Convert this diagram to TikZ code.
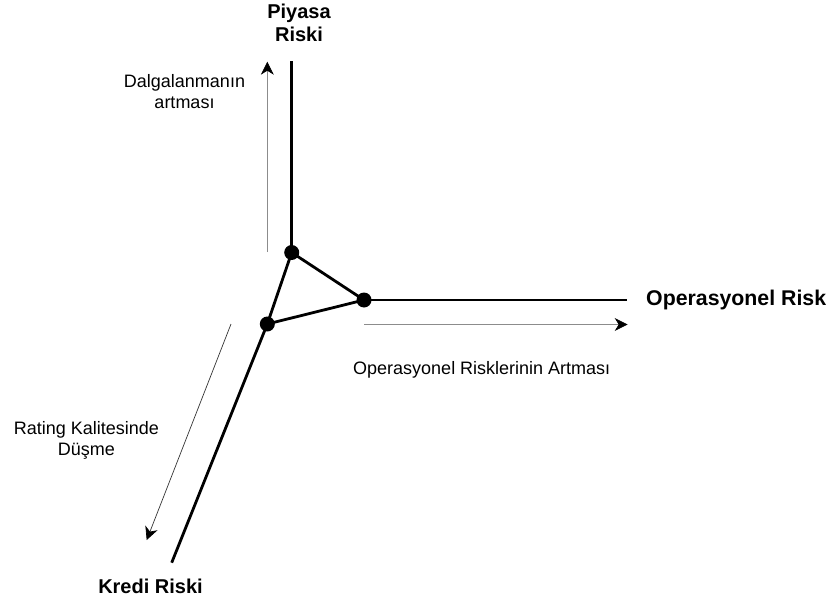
\documentclass[tikz,border=0pt]{standalone}
\usepackage{fontspec}
\setmainfont{Liberation Sans}
\usetikzlibrary{arrows.meta}
\tikzset{
  axis/.style={line width=2.8pt, black},
  edge/.style={line width=2.8pt, black, line join=round},
  trend/.style={line width=0.7pt, black!45, -{Stealth[black,length=13pt,width=13pt,inset=4pt]}},
  trenddiag/.style={trend, black!80},
  dot/.style={circle, fill=black, inner sep=0pt, minimum size=15pt},
  axislabel/.style={font=\fontsize{20}{23.4}\selectfont\bfseries, inner sep=0pt, align=center},
  note/.style={font=\fontsize{18}{21}\selectfont, inner sep=0pt, align=center}
}
\begin{document}
\begin{tikzpicture}[x=1pt, y=-1pt]
  \useasboundingbox (0,0) rectangle (834,604);

  % corner points of the risk triangle
  \node[dot] (p) at (291.7,252.5) {};
  \node[dot] (o) at (364,300) {};
  \node[dot] (k) at (267.3,324) {};

  % ends of the three axes
  \coordinate (ptop) at (291.7,60.7);
  \coordinate (oend) at (626.7,300);
  \coordinate (kend) at (171.7,562.7);

  % axes
  \draw[axis] (p.center) -- (ptop);
  \draw[axis] (o.center) -- (oend);
  \draw[axis] (k.center) -- (kend);

  % triangle
  \draw[edge] (p.center) -- (o.center) -- (k.center) -- cycle;

  % direction arrows
  \coordinate (u0) at (267.3,252);
  \coordinate (u1) at (267.3,61.7);
  \coordinate (r0) at (364,324.5);
  \coordinate (r1) at (627.7,324.5);
  \coordinate (d0) at (231,324);
  \coordinate (d1) at (146.7,540);
  \draw[trend] (u0) -- (u1);
  \draw[trend] (r0) -- (r1);
  \draw[trenddiag] (d0) -- (d1);

  % axis titles
  \node[axislabel] (lp) at (299,22.7) {Piyasa\\Riski};
  \node[axislabel, anchor=base west, font=\fontsize{21.3}{25}\selectfont\bfseries] (lo) at (646,305) {Operasyonel Risk};
  \node[axislabel, anchor=base] (lk) at (150.5,593) {Kredi Riski};

  % direction notes
  \node[note] (np) at (184.5,92) {Dalgalanmanın\\artması};
  \node[note, anchor=base west] (no) at (353,374) {Operasyonel Risklerinin Artması};
  \node[note] (nk) at (86.5,440.3) {Rating Kalitesinde\\Düşme};
\end{tikzpicture}
\end{document}
